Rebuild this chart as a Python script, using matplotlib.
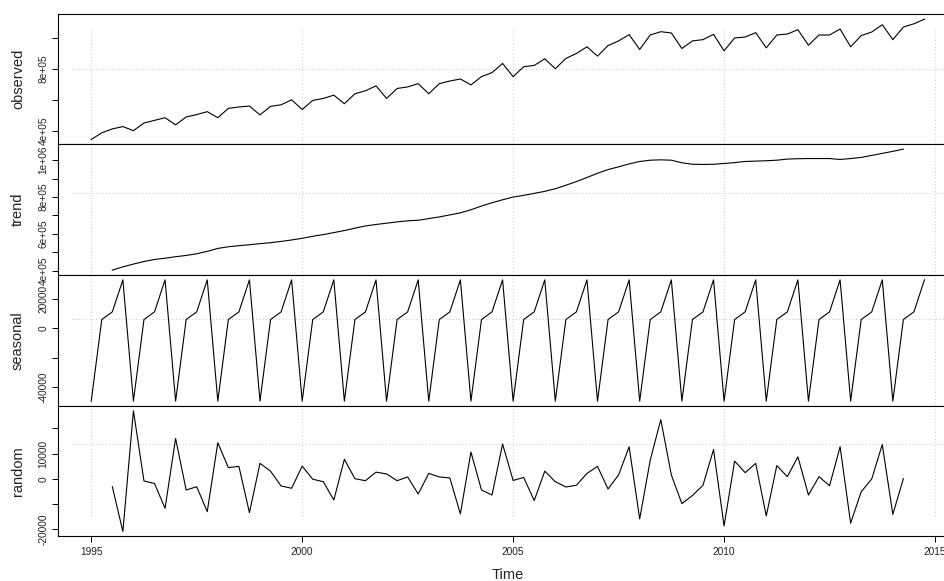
import numpy as np
import matplotlib.pyplot as plt

plt.rcParams['font.family'] = ['Liberation Sans', 'DejaVu Sans']

# quarterly series, 1995 Q1 .. 2014 Q4 (values in thousands)
start_year = 1995
freq = 4
observed = np.array([
    347, 390, 415, 430,
    404, 453, 470, 487,
    441, 492, 507, 526,
    487, 547, 556, 562,
    505, 560, 570, 602,
    540, 598, 611, 632,
    577, 641, 660, 692,
    611, 675, 685, 706,
    641, 706, 723, 736,
    698, 751, 777, 836,
    751, 815, 823, 866,
    802, 868, 900, 943,
    883, 951, 981, 1021,
    926, 1019, 1040, 1032,
    932, 981, 989, 1023,
    917, 1000, 1006, 1034,
    936, 1019, 1025, 1053,
    953, 1019, 1019, 1057,
    943, 1015, 1038, 1085,
    989, 1070, 1091, 1121,
]) * 1000

# trend / random start at 1995 Q3 and end at 2014 Q2
trend_start = 1995.5
trend = np.array([
    403, 421,
    436, 450, 461, 468,
    476, 483, 492, 505,
    521, 530, 536, 541,
    547, 552, 559, 567,
    576, 587, 596, 607,
    618, 631, 643, 651,
    658, 665, 671, 674,
    683, 692, 703, 714,
    731, 751, 769, 785,
    800, 809, 820, 831,
    845, 864, 884, 906,
    929, 949, 964, 980,
    993, 1000, 1002, 1000,
    986, 978, 977, 978,
    982, 987, 993, 995,
    997, 1000, 1006, 1008,
    1009, 1009, 1009, 1004,
    1009, 1015, 1026, 1037,
    1048, 1060,
]) * 1000

seasonal_figure = np.array([-49.5, 5.8, 11.0, 32.7]) * 1000

random_part = np.array([
    -3.2, -21.0,
    27.0, -0.9, -1.9, -11.8,
    16.0, -4.5, -3.2, -13.1,
    14.3, 4.4, 4.9, -13.5,
    6.1, 3.0, -2.9, -3.8,
    5.0, -0.2, -1.2, -8.5,
    7.7, 0.0, -0.8, 2.6,
    1.9, -0.8, 0.7, -6.1,
    2.1, 0.7, 0.3, -14.0,
    10.6, -4.5, -6.5, 13.8,
    -0.7, 0.5, -8.7, 3.0,
    -1.2, -3.3, -2.6, 2.1,
    4.9, -4.1, 1.5, 12.7,
    -16.0, 7.4, 23.5, 1.5,
    -9.9, -6.7, -2.6, 11.6,
    -18.8, 7.0, 2.4, 6.1,
    -14.8, 5.2, 0.8, 8.7,
    -6.5, 0.8, -2.8, 12.7,
    -17.7, -5.2, -0.1, 13.6,
    -14.2, 0.0,
]) * 1000

seasonal = np.tile(seasonal_figure, len(observed) // freq)
t_full = start_year + np.arange(len(observed)) / freq
t_mid = trend_start + np.arange(len(trend)) / freq

x_ticks = [1995, 2000, 2005, 2010, 2015]

# (name, x, y, tick values, tick labels)
panels = [
    ('observed', t_full, observed,
     [4e5, 6e5, 8e5, 1e6], ['4e+05', '', '8e+05', '']),
    ('trend', t_mid, trend,
     [4e5, 5e5, 6e5, 7e5, 8e5, 9e5, 1e6],
     ['4e+05', '', '6e+05', '', '8e+05', '', '1e+06']),
    ('seasonal', t_full, seasonal,
     [-40000, -20000, 0, 20000], ['-40000', '', '0', '20000']),
    ('random', t_mid, random_part,
     [-20000, -10000, 0, 10000, 20000], ['-20000', '', '0', '10000', '']),
]

# layout in pixels (R plot region, right side runs past the image)
W, H = 944, 581
left_px, right_px = 57.9, 957.8
edges = [14.3, 144.3, 275.0, 406.0, 536.3]
# odd grid() leftovers: one dotted horizontal per panel, verticals cut at ends
hgrid_frac = [0.579, 0.625, 0.662, 0.711]
vgrid_span = [(0.0, 0.887), (0.0, 1.0), (0.0, 1.0), (0.152, 1.0)]
grid_x0 = 0.0153
grid_col = '#cfcfcf'

fig = plt.figure(figsize=(W / 100, H / 100), dpi=100)

x_lo, x_hi = t_full.min(), t_full.max()
x_pad = 0.04 * (x_hi - x_lo)

for i, (name, x, y, yt, ytl) in enumerate(panels):
    top, bot = edges[i], edges[i + 1]
    ax = fig.add_axes([left_px / W, 1 - bot / H,
                       (right_px - left_px) / W, (bot - top) / H])
    ax.plot(x, y, color='black', lw=0.8, zorder=3)

    y_lo, y_hi = y.min(), y.max()
    y_pad = 0.04 * (y_hi - y_lo)
    ax.set_ylim(y_lo - y_pad, y_hi + y_pad)
    ax.set_xlim(x_lo - x_pad, x_hi + x_pad)

    for yr in x_ticks:
        ax.axvline(yr, ymin=vgrid_span[i][0], ymax=vgrid_span[i][1],
                   color=grid_col, lw=0.8, ls=(0, (1, 2)), zorder=0)
    ax.plot([grid_x0, 1], [hgrid_frac[i], hgrid_frac[i]], transform=ax.transAxes,
            color=grid_col, lw=0.8, ls=(0, (1, 2)), zorder=0)

    ax.set_yticks(yt)
    ax.set_yticklabels(ytl)
    for lab in ax.get_yticklabels():
        lab.set_rotation(90)
        lab.set_va('center')
    ax.tick_params(axis='y', direction='out', length=4.3, width=0.7,
                   labelsize=7.3, pad=2.5, labelcolor='#222222')
    ax.set_ylabel(name, fontsize=10.5, color='#222222')
    ax.yaxis.set_label_coords(-0.0366, 0.5)

    if i < 3:
        ax.set_xticks([])
    else:
        ax.set_xticks(x_ticks)
        ax.set_xticklabels([str(v) for v in x_ticks])
        ax.tick_params(axis='x', direction='out', length=4.3, width=0.7,
                       labelsize=7.3, pad=3.5, labelcolor='#222222')
        ax.set_xlabel('Time', fontsize=10.5, color='#222222')
        ax.xaxis.set_label_coords(0.5, -0.245)

    for sp in ax.spines.values():
        sp.set_linewidth(0.8)
        sp.set_color('black')

fig.savefig('out.png', dpi=100)
